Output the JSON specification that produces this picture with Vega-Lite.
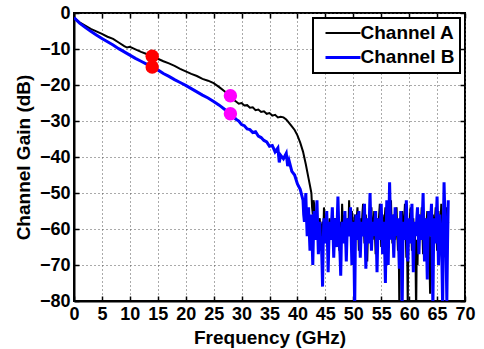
{
  "$schema": "https://vega.github.io/schema/vega-lite/v6.json",
  "width": 391,
  "height": 288,
  "autosize": "none",
  "padding": {"left": 74, "top": 13, "right": 19, "bottom": 48},
  "background": "white",
  "config": {
    "font": "Liberation Sans",
    "view": {"stroke": "black", "strokeWidth": 2},
    "axis": {
      "labelFont": "Liberation Sans", "labelFontWeight": "bold", "labelFontSize": 18, "labelColor": "black",
      "titleFont": "Liberation Sans", "titleFontWeight": "bold", "titleFontSize": 19, "titleColor": "black",
      "domainColor": "black", "domainWidth": 2,
      "tickColor": "black", "tickWidth": 1.5, "tickSize": -5,
      "gridColor": "#555555", "gridDash": [1, 3], "gridWidth": 1, "gridOpacity": 1,
      "labelFlush": false
    },
    "legend": {
      "labelFont": "Liberation Sans", "labelFontWeight": "bold", "labelFontSize": 19, "labelColor": "black",
      "strokeColor": "black", "strokeWidth": 2, "fillColor": "white",
      "padding": 5.5, "rowPadding": 4.4, "labelOffset": 8, "symbolOffset": 15,
      "symbolType": "M-3.5,0H3.5", "symbolSize": 100, "symbolStrokeWidth": 2.2,
      "orient": "top-right", "offset": 5
    }
  },
  "datasets": {
    "curves": [
      {"series":"Channel A","f":0,"g":-1.3},{"series":"Channel A","f":1,"g":-2.6},{"series":"Channel A","f":2,"g":-3.5},{"series":"Channel A","f":3,"g":-4.4},{"series":"Channel A","f":4,"g":-5.1},{"series":"Channel A","f":5,"g":-5.8},{"series":"Channel A","f":6,"g":-6.6},{"series":"Channel A","f":7,"g":-7.2},{"series":"Channel A","f":8,"g":-8.2},{"series":"Channel A","f":9,"g":-9.2},{"series":"Channel A","f":9.5,"g":-9.6},{"series":"Channel A","f":10,"g":-9.4},{"series":"Channel A","f":11,"g":-10.1},{"series":"Channel A","f":12,"g":-10.8},{"series":"Channel A","f":13,"g":-11.4},{"series":"Channel A","f":14,"g":-12.0},{"series":"Channel A","f":15,"g":-12.7},{"series":"Channel A","f":16,"g":-13.4},{"series":"Channel A","f":17,"g":-14.0},{"series":"Channel A","f":18,"g":-14.7},{"series":"Channel A","f":19,"g":-15.5},{"series":"Channel A","f":20,"g":-16.2},{"series":"Channel A","f":21,"g":-16.9},{"series":"Channel A","f":22,"g":-17.5},{"series":"Channel A","f":23,"g":-18.3},{"series":"Channel A","f":24,"g":-18.8},{"series":"Channel A","f":25,"g":-19.5},{"series":"Channel A","f":26,"g":-20.6},{"series":"Channel A","f":27,"g":-21.8},{"series":"Channel A","f":28,"g":-23.2},{"series":"Channel A","f":28.5,"g":-24.0},{"series":"Channel A","f":29,"g":-24.6},{"series":"Channel A","f":29.5,"g":-25.2},{"series":"Channel A","f":30,"g":-25.0},{"series":"Channel A","f":30.5,"g":-25.7},{"series":"Channel A","f":31,"g":-25.6},{"series":"Channel A","f":31.5,"g":-26.3},{"series":"Channel A","f":32,"g":-26.2},{"series":"Channel A","f":32.5,"g":-27.0},{"series":"Channel A","f":33,"g":-26.8},{"series":"Channel A","f":33.5,"g":-27.5},{"series":"Channel A","f":34,"g":-27.3},{"series":"Channel A","f":34.5,"g":-28.0},{"series":"Channel A","f":35,"g":-27.8},{"series":"Channel A","f":35.5,"g":-28.5},{"series":"Channel A","f":36,"g":-28.3},{"series":"Channel A","f":36.5,"g":-29.0},{"series":"Channel A","f":37,"g":-28.8},{"series":"Channel A","f":37.5,"g":-29.0},{"series":"Channel A","f":38,"g":-29.6},{"series":"Channel A","f":38.5,"g":-30.5},{"series":"Channel A","f":39,"g":-31.5},{"series":"Channel A","f":39.5,"g":-32.5},{"series":"Channel A","f":40,"g":-34},{"series":"Channel A","f":40.5,"g":-36},{"series":"Channel A","f":41,"g":-38.5},{"series":"Channel A","f":41.5,"g":-42},{"series":"Channel A","f":42,"g":-46},{"series":"Channel A","f":42.25,"g":-48},
      {"series":"Channel A","f":42.5,"g":-50},{"series":"Channel A","f":42.625,"g":-54},{"series":"Channel A","f":42.75,"g":-56},{"series":"Channel A","f":42.875,"g":-52},{"series":"Channel A","f":43,"g":-53},{"series":"Channel A","f":43.125,"g":-58},{"series":"Channel A","f":43.25,"g":-60},{"series":"Channel A","f":43.375,"g":-56},{"series":"Channel A","f":43.5,"g":-55},{"series":"Channel A","f":43.625,"g":-61},{"series":"Channel A","f":43.75,"g":-63},{"series":"Channel A","f":43.875,"g":-58},{"series":"Channel A","f":44,"g":-57},{"series":"Channel A","f":44.125,"g":-62},{"series":"Channel A","f":44.25,"g":-66},{"series":"Channel A","f":44.375,"g":-59},{"series":"Channel A","f":44.5,"g":-58},{"series":"Channel A","f":44.625,"g":-62},{"series":"Channel A","f":44.75,"g":-54},{"series":"Channel A","f":44.875,"g":-60},{"series":"Channel A","f":45,"g":-62},{"series":"Channel A","f":45.125,"g":-58},{"series":"Channel A","f":45.25,"g":-56},{"series":"Channel A","f":45.375,"g":-63},{"series":"Channel A","f":45.5,"g":-68},{"series":"Channel A","f":45.625,"g":-60},{"series":"Channel A","f":45.75,"g":-57},{"series":"Channel A","f":45.875,"g":-63},{"series":"Channel A","f":46,"g":-60},{"series":"Channel A","f":46.125,"g":-58},{"series":"Channel A","f":46.25,"g":-55},{"series":"Channel A","f":46.375,"g":-61},{"series":"Channel A","f":46.5,"g":-64},{"series":"Channel A","f":46.625,"g":-59},{"series":"Channel A","f":46.75,"g":-57},{"series":"Channel A","f":46.875,"g":-63},{"series":"Channel A","f":47,"g":-61},{"series":"Channel A","f":47.125,"g":-57},{"series":"Channel A","f":47.25,"g":-54},{"series":"Channel A","f":47.375,"g":-60},{"series":"Channel A","f":47.5,"g":-66},{"series":"Channel A","f":47.625,"g":-61},{"series":"Channel A","f":47.75,"g":-58},{"series":"Channel A","f":47.875,"g":-62},{"series":"Channel A","f":48,"g":-53},{"series":"Channel A","f":48.125,"g":-58},{"series":"Channel A","f":48.25,"g":-62},{"series":"Channel A","f":48.375,"g":-57},{"series":"Channel A","f":48.5,"g":-56},{"series":"Channel A","f":48.625,"g":-63},{"series":"Channel A","f":48.75,"g":-67},{"series":"Channel A","f":48.875,"g":-60},{"series":"Channel A","f":49,"g":-57},{"series":"Channel A","f":49.125,"g":-61},{"series":"Channel A","f":49.25,"g":-52},{"series":"Channel A","f":49.375,"g":-58},{"series":"Channel A","f":49.5,"g":-60},{"series":"Channel A","f":49.625,"g":-56},{"series":"Channel A","f":49.75,"g":-55},{"series":"Channel A","f":49.875,"g":-61},{"series":"Channel A","f":50,"g":-65},{"series":"Channel A","f":50.125,"g":-59},{"series":"Channel A","f":50.25,"g":-56},{"series":"Channel A","f":50.375,"g":-62},{"series":"Channel A","f":50.5,"g":-61},{"series":"Channel A","f":50.625,"g":-57},{"series":"Channel A","f":50.75,"g":-54},{"series":"Channel A","f":50.875,"g":-60},{"series":"Channel A","f":51,"g":-66},{"series":"Channel A","f":51.125,"g":-60},{"series":"Channel A","f":51.25,"g":-57},{"series":"Channel A","f":51.375,"g":-62},{"series":"Channel A","f":51.5,"g":-60},{"series":"Channel A","f":51.625,"g":-56},{"series":"Channel A","f":51.75,"g":-53},{"series":"Channel A","f":51.875,"g":-59},{"series":"Channel A","f":52,"g":-64},{"series":"Channel A","f":52.125,"g":-58},{"series":"Channel A","f":52.25,"g":-56},{"series":"Channel A","f":52.375,"g":-62},{"series":"Channel A","f":52.5,"g":-69},{"series":"Channel A","f":52.625,"g":-61},{"series":"Channel A","f":52.75,"g":-57},{"series":"Channel A","f":52.875,"g":-63},{"series":"Channel A","f":53,"g":-61},{"series":"Channel A","f":53.125,"g":-57},{"series":"Channel A","f":53.25,"g":-54},{"series":"Channel A","f":53.375,"g":-60},{"series":"Channel A","f":53.5,"g":-63},{"series":"Channel A","f":53.625,"g":-58},{"series":"Channel A","f":53.75,"g":-55},{"series":"Channel A","f":53.875,"g":-61},{"series":"Channel A","f":54,"g":-67},{"series":"Channel A","f":54.125,"g":-60},{"series":"Channel A","f":54.25,"g":-57},{"series":"Channel A","f":54.375,"g":-62},{"series":"Channel A","f":54.5,"g":-60},{"series":"Channel A","f":54.625,"g":-56},{"series":"Channel A","f":54.75,"g":-53},{"series":"Channel A","f":54.875,"g":-59},{"series":"Channel A","f":55,"g":-65},{"series":"Channel A","f":55.125,"g":-59},{"series":"Channel A","f":55.25,"g":-56},{"series":"Channel A","f":55.375,"g":-61},{"series":"Channel A","f":55.5,"g":-62},{"series":"Channel A","f":55.625,"g":-57},{"series":"Channel A","f":55.75,"g":-54},{"series":"Channel A","f":55.875,"g":-60},{"series":"Channel A","f":56,"g":-66},{"series":"Channel A","f":56.125,"g":-60},{"series":"Channel A","f":56.25,"g":-57},{"series":"Channel A","f":56.375,"g":-62},{"series":"Channel A","f":56.5,"g":-61},{"series":"Channel A","f":56.625,"g":-56},{"series":"Channel A","f":56.75,"g":-52},{"series":"Channel A","f":56.875,"g":-59},{"series":"Channel A","f":57,"g":-64},{"series":"Channel A","f":57.125,"g":-60},{"series":"Channel A","f":57.25,"g":-56},{"series":"Channel A","f":57.375,"g":-62},{"series":"Channel A","f":57.5,"g":-63},{"series":"Channel A","f":57.625,"g":-58},{"series":"Channel A","f":57.75,"g":-54},{"series":"Channel A","f":57.875,"g":-61},{"series":"Channel A","f":58,"g":-66},{"series":"Channel A","f":58.125,"g":-62},{"series":"Channel A","f":58.25,"g":-84},{"series":"Channel A","f":58.375,"g":-60},{"series":"Channel A","f":58.5,"g":-57},{"series":"Channel A","f":58.625,"g":-61},{"series":"Channel A","f":58.75,"g":-55},{"series":"Channel A","f":58.875,"g":-60},{"series":"Channel A","f":59,"g":-62},{"series":"Channel A","f":59.125,"g":-57},{"series":"Channel A","f":59.25,"g":-53},{"series":"Channel A","f":59.375,"g":-60},{"series":"Channel A","f":59.5,"g":-68},{"series":"Channel A","f":59.625,"g":-63},{"series":"Channel A","f":59.75,"g":-82},{"series":"Channel A","f":59.875,"g":-60},{"series":"Channel A","f":60,"g":-61},{"series":"Channel A","f":60.125,"g":-57},{"series":"Channel A","f":60.25,"g":-54},{"series":"Channel A","f":60.375,"g":-60},{"series":"Channel A","f":60.5,"g":-66},{"series":"Channel A","f":60.625,"g":-61},{"series":"Channel A","f":60.75,"g":-57},{"series":"Channel A","f":60.875,"g":-62},{"series":"Channel A","f":61,"g":-60},{"series":"Channel A","f":61.125,"g":-66},{"series":"Channel A","f":61.25,"g":-84},{"series":"Channel A","f":61.375,"g":-63},{"series":"Channel A","f":61.5,"g":-70},{"series":"Channel A","f":61.625,"g":-60},{"series":"Channel A","f":61.75,"g":-56},{"series":"Channel A","f":61.875,"g":-61},{"series":"Channel A","f":62,"g":-62},{"series":"Channel A","f":62.125,"g":-58},{"series":"Channel A","f":62.25,"g":-54},{"series":"Channel A","f":62.375,"g":-61},{"series":"Channel A","f":62.5,"g":-67},{"series":"Channel A","f":62.625,"g":-61},{"series":"Channel A","f":62.75,"g":-57},{"series":"Channel A","f":62.875,"g":-62},{"series":"Channel A","f":63,"g":-63},{"series":"Channel A","f":63.125,"g":-58},{"series":"Channel A","f":63.25,"g":-55},{"series":"Channel A","f":63.375,"g":-61},{"series":"Channel A","f":63.5,"g":-62},{"series":"Channel A","f":63.625,"g":-68},{"series":"Channel A","f":63.75,"g":-78},{"series":"Channel A","f":63.875,"g":-62},{"series":"Channel A","f":64,"g":-68},{"series":"Channel A","f":64.125,"g":-61},{"series":"Channel A","f":64.25,"g":-56},{"series":"Channel A","f":64.375,"g":-62},{"series":"Channel A","f":64.5,"g":-61},{"series":"Channel A","f":64.625,"g":-57},{"series":"Channel A","f":64.75,"g":-54},{"series":"Channel A","f":64.875,"g":-60},{"series":"Channel A","f":65,"g":-66},{"series":"Channel A","f":65.125,"g":-60},{"series":"Channel A","f":65.25,"g":-55},{"series":"Channel A","f":65.375,"g":-61},{"series":"Channel A","f":65.5,"g":-63},{"series":"Channel A","f":65.625,"g":-58},{"series":"Channel A","f":65.75,"g":-53},{"series":"Channel A","f":65.875,"g":-60},{"series":"Channel A","f":66,"g":-69},{"series":"Channel A","f":66.125,"g":-61},{"series":"Channel A","f":66.25,"g":-56},{"series":"Channel A","f":66.375,"g":-62},{"series":"Channel A","f":66.5,"g":-60},{"series":"Channel A","f":66.625,"g":-57},{"series":"Channel A","f":66.75,"g":-54},{"series":"Channel A","f":66.875,"g":-59},{"series":"Channel A","f":67,"g":-58},
      {"series":"Channel B","f":0,"g":-1.3},{"series":"Channel B","f":1,"g":-2.8},{"series":"Channel B","f":2,"g":-4.0},{"series":"Channel B","f":3,"g":-5.1},{"series":"Channel B","f":4,"g":-6.1},{"series":"Channel B","f":5,"g":-7.1},{"series":"Channel B","f":6,"g":-8.0},{"series":"Channel B","f":7,"g":-8.9},{"series":"Channel B","f":8,"g":-9.9},{"series":"Channel B","f":9,"g":-10.8},{"series":"Channel B","f":10,"g":-11.7},{"series":"Channel B","f":11,"g":-12.6},{"series":"Channel B","f":12,"g":-13.4},{"series":"Channel B","f":13,"g":-14.2},{"series":"Channel B","f":14,"g":-15.0},{"series":"Channel B","f":15,"g":-15.8},{"series":"Channel B","f":16,"g":-16.8},{"series":"Channel B","f":17,"g":-17.6},{"series":"Channel B","f":18,"g":-18.5},{"series":"Channel B","f":19,"g":-19.3},{"series":"Channel B","f":20,"g":-20.1},{"series":"Channel B","f":21,"g":-21.0},{"series":"Channel B","f":22,"g":-21.9},{"series":"Channel B","f":23,"g":-22.8},{"series":"Channel B","f":24,"g":-23.6},{"series":"Channel B","f":25,"g":-24.6},{"series":"Channel B","f":26,"g":-25.6},{"series":"Channel B","f":27,"g":-26.8},{"series":"Channel B","f":28,"g":-28.0},{"series":"Channel B","f":29,"g":-29.5},{"series":"Channel B","f":29.5,"g":-30.0},{"series":"Channel B","f":30,"g":-31.0},{"series":"Channel B","f":30.5,"g":-31.3},{"series":"Channel B","f":31,"g":-32.2},{"series":"Channel B","f":31.5,"g":-32.4},{"series":"Channel B","f":32,"g":-33.2},{"series":"Channel B","f":32.5,"g":-33.0},{"series":"Channel B","f":33,"g":-34.2},{"series":"Channel B","f":33.5,"g":-34.6},{"series":"Channel B","f":34,"g":-35.4},{"series":"Channel B","f":34.5,"g":-35.8},{"series":"Channel B","f":35,"g":-37.0},{"series":"Channel B","f":35.5,"g":-36.8},{"series":"Channel B","f":36,"g":-38.6},{"series":"Channel B","f":36.5,"g":-37.5},{"series":"Channel B","f":36.75,"g":-41.5},{"series":"Channel B","f":37,"g":-39.5},{"series":"Channel B","f":37.5,"g":-40.5},{"series":"Channel B","f":38,"g":-39.0},{"series":"Channel B","f":38.25,"g":-42.5},{"series":"Channel B","f":38.5,"g":-41},{"series":"Channel B","f":39,"g":-44},{"series":"Channel B","f":39.5,"g":-45},{"series":"Channel B","f":40,"g":-47.5},{"series":"Channel B","f":40.5,"g":-49},
      {"series":"Channel B","f":41,"g":-52},{"series":"Channel B","f":41.125,"g":-56},{"series":"Channel B","f":41.25,"g":-58},{"series":"Channel B","f":41.375,"g":-54},{"series":"Channel B","f":41.5,"g":-50},{"series":"Channel B","f":41.625,"g":-57},{"series":"Channel B","f":41.75,"g":-62},{"series":"Channel B","f":41.875,"g":-58},{"series":"Channel B","f":42,"g":-54},{"series":"Channel B","f":42.125,"g":-61},{"series":"Channel B","f":42.25,"g":-66},{"series":"Channel B","f":42.375,"g":-60},{"series":"Channel B","f":42.5,"g":-56},{"series":"Channel B","f":42.625,"g":-63},{"series":"Channel B","f":42.75,"g":-70},{"series":"Channel B","f":42.875,"g":-61},{"series":"Channel B","f":43,"g":-55},{"series":"Channel B","f":43.125,"g":-60},{"series":"Channel B","f":43.25,"g":-63},{"series":"Channel B","f":43.375,"g":-57},{"series":"Channel B","f":43.5,"g":-52},{"series":"Channel B","f":43.625,"g":-60},{"series":"Channel B","f":43.75,"g":-67},{"series":"Channel B","f":43.875,"g":-62},{"series":"Channel B","f":44,"g":-58},{"series":"Channel B","f":44.125,"g":-64},{"series":"Channel B","f":44.25,"g":-62},{"series":"Channel B","f":44.375,"g":-68},{"series":"Channel B","f":44.5,"g":-76},{"series":"Channel B","f":44.625,"g":-63},{"series":"Channel B","f":44.75,"g":-57},{"series":"Channel B","f":44.875,"g":-62},{"series":"Channel B","f":45,"g":-64},{"series":"Channel B","f":45.125,"g":-59},{"series":"Channel B","f":45.25,"g":-55},{"series":"Channel B","f":45.375,"g":-63},{"series":"Channel B","f":45.5,"g":-72},{"series":"Channel B","f":45.625,"g":-64},{"series":"Channel B","f":45.75,"g":-58},{"series":"Channel B","f":45.875,"g":-63},{"series":"Channel B","f":46,"g":-62},{"series":"Channel B","f":46.125,"g":-58},{"series":"Channel B","f":46.25,"g":-54},{"series":"Channel B","f":46.375,"g":-61},{"series":"Channel B","f":46.5,"g":-68},{"series":"Channel B","f":46.625,"g":-62},{"series":"Channel B","f":46.75,"g":-57},{"series":"Channel B","f":46.875,"g":-63},{"series":"Channel B","f":47,"g":-65},{"series":"Channel B","f":47.125,"g":-58},{"series":"Channel B","f":47.25,"g":-51},{"series":"Channel B","f":47.375,"g":-58},{"series":"Channel B","f":47.5,"g":-63},{"series":"Channel B","f":47.625,"g":-67},{"series":"Channel B","f":47.75,"g":-73},{"series":"Channel B","f":47.875,"g":-63},{"series":"Channel B","f":48,"g":-58},{"series":"Channel B","f":48.125,"g":-62},{"series":"Channel B","f":48.25,"g":-64},{"series":"Channel B","f":48.375,"g":-59},{"series":"Channel B","f":48.5,"g":-55},{"series":"Channel B","f":48.625,"g":-62},{"series":"Channel B","f":48.75,"g":-69},{"series":"Channel B","f":48.875,"g":-62},{"series":"Channel B","f":49,"g":-57},{"series":"Channel B","f":49.125,"g":-61},{"series":"Channel B","f":49.25,"g":-62},{"series":"Channel B","f":49.375,"g":-58},{"series":"Channel B","f":49.5,"g":-54},{"series":"Channel B","f":49.625,"g":-62},{"series":"Channel B","f":49.75,"g":-70},{"series":"Channel B","f":49.875,"g":-63},{"series":"Channel B","f":50,"g":-58},{"series":"Channel B","f":50.125,"g":-67},{"series":"Channel B","f":50.25,"g":-82},{"series":"Channel B","f":50.375,"g":-63},{"series":"Channel B","f":50.5,"g":-56},{"series":"Channel B","f":50.625,"g":-60},{"series":"Channel B","f":50.75,"g":-63},{"series":"Channel B","f":50.875,"g":-58},{"series":"Channel B","f":51,"g":-55},{"series":"Channel B","f":51.125,"g":-62},{"series":"Channel B","f":51.25,"g":-68},{"series":"Channel B","f":51.375,"g":-62},{"series":"Channel B","f":51.5,"g":-58},{"series":"Channel B","f":51.625,"g":-61},{"series":"Channel B","f":51.75,"g":-62},{"series":"Channel B","f":51.875,"g":-57},{"series":"Channel B","f":52,"g":-53},{"series":"Channel B","f":52.125,"g":-62},{"series":"Channel B","f":52.25,"g":-71},{"series":"Channel B","f":52.375,"g":-63},{"series":"Channel B","f":52.5,"g":-57},{"series":"Channel B","f":52.625,"g":-61},{"series":"Channel B","f":52.75,"g":-64},{"series":"Channel B","f":52.875,"g":-57},{"series":"Channel B","f":53,"g":-50},{"series":"Channel B","f":53.125,"g":-58},{"series":"Channel B","f":53.25,"g":-66},{"series":"Channel B","f":53.375,"g":-61},{"series":"Channel B","f":53.5,"g":-58},{"series":"Channel B","f":53.625,"g":-60},{"series":"Channel B","f":53.75,"g":-62},{"series":"Channel B","f":53.875,"g":-58},{"series":"Channel B","f":54,"g":-55},{"series":"Channel B","f":54.125,"g":-63},{"series":"Channel B","f":54.25,"g":-72},{"series":"Channel B","f":54.375,"g":-63},{"series":"Channel B","f":54.5,"g":-57},{"series":"Channel B","f":54.625,"g":-60},{"series":"Channel B","f":54.75,"g":-63},{"series":"Channel B","f":54.875,"g":-58},{"series":"Channel B","f":55,"g":-53},{"series":"Channel B","f":55.125,"g":-60},{"series":"Channel B","f":55.25,"g":-67},{"series":"Channel B","f":55.375,"g":-62},{"series":"Channel B","f":55.5,"g":-58},{"series":"Channel B","f":55.625,"g":-66},{"series":"Channel B","f":55.75,"g":-75},{"series":"Channel B","f":55.875,"g":-62},{"series":"Channel B","f":56,"g":-52},{"series":"Channel B","f":56.125,"g":-61},{"series":"Channel B","f":56.25,"g":-70},{"series":"Channel B","f":56.375,"g":-58},{"series":"Channel B","f":56.5,"g":-47},{"series":"Channel B","f":56.625,"g":-56},{"series":"Channel B","f":56.75,"g":-63},{"series":"Channel B","f":56.875,"g":-59},{"series":"Channel B","f":57,"g":-56},{"series":"Channel B","f":57.125,"g":-62},{"series":"Channel B","f":57.25,"g":-68},{"series":"Channel B","f":57.375,"g":-61},{"series":"Channel B","f":57.5,"g":-54},{"series":"Channel B","f":57.625,"g":-58},{"series":"Channel B","f":57.75,"g":-62},{"series":"Channel B","f":57.875,"g":-59},{"series":"Channel B","f":58,"g":-57},{"series":"Channel B","f":58.125,"g":-63},{"series":"Channel B","f":58.25,"g":-71},{"series":"Channel B","f":58.375,"g":-62},{"series":"Channel B","f":58.5,"g":-55},{"series":"Channel B","f":58.625,"g":-66},{"series":"Channel B","f":58.75,"g":-82},{"series":"Channel B","f":58.875,"g":-64},{"series":"Channel B","f":59,"g":-58},{"series":"Channel B","f":59.125,"g":-61},{"series":"Channel B","f":59.25,"g":-63},{"series":"Channel B","f":59.375,"g":-57},{"series":"Channel B","f":59.5,"g":-52},{"series":"Channel B","f":59.625,"g":-61},{"series":"Channel B","f":59.75,"g":-69},{"series":"Channel B","f":59.875,"g":-62},{"series":"Channel B","f":60,"g":-57},{"series":"Channel B","f":60.125,"g":-61},{"series":"Channel B","f":60.25,"g":-64},{"series":"Channel B","f":60.375,"g":-58},{"series":"Channel B","f":60.5,"g":-53},{"series":"Channel B","f":60.625,"g":-62},{"series":"Channel B","f":60.75,"g":-72},{"series":"Channel B","f":60.875,"g":-64},{"series":"Channel B","f":61,"g":-58},{"series":"Channel B","f":61.125,"g":-60},{"series":"Channel B","f":61.25,"g":-62},{"series":"Channel B","f":61.375,"g":-57},{"series":"Channel B","f":61.5,"g":-54},{"series":"Channel B","f":61.625,"g":-61},{"series":"Channel B","f":61.75,"g":-67},{"series":"Channel B","f":61.875,"g":-61},{"series":"Channel B","f":62,"g":-56},{"series":"Channel B","f":62.125,"g":-60},{"series":"Channel B","f":62.25,"g":-63},{"series":"Channel B","f":62.375,"g":-56},{"series":"Channel B","f":62.5,"g":-50},{"series":"Channel B","f":62.625,"g":-60},{"series":"Channel B","f":62.75,"g":-69},{"series":"Channel B","f":62.875,"g":-62},{"series":"Channel B","f":63,"g":-57},{"series":"Channel B","f":63.125,"g":-65},{"series":"Channel B","f":63.25,"g":-74},{"series":"Channel B","f":63.375,"g":-63},{"series":"Channel B","f":63.5,"g":-55},{"series":"Channel B","f":63.625,"g":-59},{"series":"Channel B","f":63.75,"g":-62},{"series":"Channel B","f":63.875,"g":-57},{"series":"Channel B","f":64,"g":-53},{"series":"Channel B","f":64.125,"g":-66},{"series":"Channel B","f":64.25,"g":-82},{"series":"Channel B","f":64.375,"g":-64},{"series":"Channel B","f":64.5,"g":-57},{"series":"Channel B","f":64.625,"g":-61},{"series":"Channel B","f":64.75,"g":-64},{"series":"Channel B","f":64.875,"g":-57},{"series":"Channel B","f":65,"g":-51},{"series":"Channel B","f":65.125,"g":-60},{"series":"Channel B","f":65.25,"g":-70},{"series":"Channel B","f":65.375,"g":-62},{"series":"Channel B","f":65.5,"g":-56},{"series":"Channel B","f":65.625,"g":-59},{"series":"Channel B","f":65.75,"g":-62},{"series":"Channel B","f":65.875,"g":-70},{"series":"Channel B","f":66,"g":-82},{"series":"Channel B","f":66.125,"g":-60},{"series":"Channel B","f":66.25,"g":-47},{"series":"Channel B","f":66.375,"g":-55},{"series":"Channel B","f":66.5,"g":-60},{"series":"Channel B","f":66.625,"g":-68},{"series":"Channel B","f":66.75,"g":-80},{"series":"Channel B","f":66.875,"g":-64},{"series":"Channel B","f":67,"g":-52}
    ],
    "markers": [
      {"f":14,"g":-12,"c":"#ff0000"},{"f":14,"g":-15,"c":"#ff0000"},
      {"f":28,"g":-23,"c":"#ff00ff"},{"f":28,"g":-28,"c":"#ff00ff"}
    ]
  },
  "resolve": {"axis": {"x": "independent", "y": "independent"}},
  "layer": [
    {
      "data": {"name": "curves"},
      "mark": {"type": "line", "clip": true, "strokeJoin": "miter"},
      "encoding": {
        "x": {"field": "f", "type": "quantitative", "scale": {"domain": [0, 70], "nice": false, "zero": false},
              "axis": {"orient": "bottom", "title": "Frequency (GHz)", "values": [0,5,10,15,20,25,30,35,40,45,50,55,60,65,70], "labelPadding": 9, "titlePadding": 5}},
        "y": {"field": "g", "type": "quantitative", "scale": {"domain": [-80, 0], "nice": false, "zero": false},
              "axis": {"orient": "left", "title": "Channel Gain (dB)", "values": [-80,-70,-60,-50,-40,-30,-20,-10,0], "labelPadding": 9, "titlePadding": 6}},
        "color": {"field": "series", "type": "nominal", "scale": {"domain": ["Channel A", "Channel B"], "range": ["#000000", "#0000ff"]}, "legend": {"title": null}},
        "strokeWidth": {"field": "series", "type": "nominal", "scale": {"domain": ["Channel A", "Channel B"], "range": [2, 3]}, "legend": null},
        "order": {"field": "f", "type": "quantitative"}
      }
    },
    {
      "data": {"name": "markers"},
      "mark": {"type": "circle", "size": 180, "opacity": 1},
      "encoding": {
        "x": {"field": "f", "type": "quantitative", "scale": {"domain": [0, 70], "nice": false, "zero": false}, "axis": null},
        "y": {"field": "g", "type": "quantitative", "scale": {"domain": [-80, 0], "nice": false, "zero": false}, "axis": null},
        "color": {"field": "c", "type": "nominal", "scale": null, "legend": null}
      }
    },
    {
      "data": {"name": "markers"},
      "mark": {"type": "point", "opacity": 0},
      "encoding": {
        "x": {"field": "f", "type": "quantitative", "scale": {"domain": [0, 70], "nice": false, "zero": false},
              "axis": {"orient": "top", "title": null, "labels": false, "grid": false, "domain": false, "values": [0,5,10,15,20,25,30,35,40,45,50,55,60,65,70]}},
        "y": {"field": "g", "type": "quantitative", "scale": {"domain": [-80, 0], "nice": false, "zero": false},
              "axis": {"orient": "right", "title": null, "labels": false, "grid": false, "domain": false, "values": [-80,-70,-60,-50,-40,-30,-20,-10,0]}}
      }
    }
  ]
}
